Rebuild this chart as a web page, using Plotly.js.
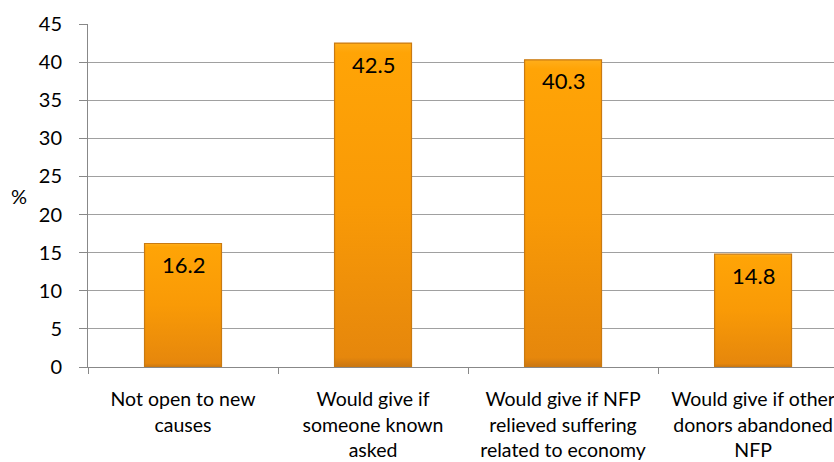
<!DOCTYPE html>
<html>
<head>
<meta charset="utf-8">
<script src="https://cdn.plot.ly/plotly-3.0.1.min.js"></script>
<style>html,body{margin:0;padding:0;background:#fff;}#chart{width:834px;height:462px;}</style>
</head>
<body>
<div id="chart"></div>
<script>
const categories = [
  "Not open to new<br>causes",
  "Would give if<br>someone known<br>asked",
  "Would give if NFP<br>relieved suffering<br>related to economy",
  "Would give if other<br>donors abandoned<br>NFP"
];
const values = [16.2, 42.5, 40.3, 14.8];
const yTickVals = [0, 5, 10, 15, 20, 25, 30, 35, 40, 45];
const yAxisLabel = "%";

const FONT = "Lato, 'Open Sans', sans-serif";

const trace = {
  type: "bar",
  x: categories,
  y: values,
  width: 0.405,
  marker: { color: "#F7980E", line: { color: "#C97A12", width: 1.2 } },
  hoverinfo: "none"
};

const annotations = values.map((v, i) => ({
  x: categories[i], y: v, xref: "x", yref: "y",
  text: String(v), showarrow: false,
  yanchor: "middle", yshift: -21,
  font: { family: FONT, size: 22, color: "#000" }
}));
annotations.push({
  text: yAxisLabel, xref: "paper", yref: "paper", x: -0.092, y: 0.5,
  xanchor: "center", yanchor: "middle", showarrow: false,
  font: { family: FONT, size: 20, color: "#000" }
});

const layout = {
  width: 834, height: 462,
  margin: { l: 88, r: 0, t: 24, b: 95 },
  paper_bgcolor: "#fff", plot_bgcolor: "#fff",
  showlegend: false,
  font: { family: FONT, size: 19, color: "#000" },
  xaxis: {
    type: "category",
    range: [-0.5, 3.426],
    tickson: "boundaries",
    ticks: "outside", ticklen: 6, tickcolor: "#888", tickwidth: 1,
    showline: true, linecolor: "#888", linewidth: 1,
    showgrid: false, zeroline: false,
    tickfont: { family: FONT, size: 19.5, color: "#000" },
    ticklabelstandoff: 15
  },
  yaxis: {
    range: [0, 45],
    tickvals: yTickVals,
    ticks: "outside", ticklen: 8, tickcolor: "#888", tickwidth: 1,
    showline: true, linecolor: "#888", linewidth: 1,
    showgrid: true, gridcolor: "#A0A0A0", gridwidth: 1,
    zeroline: false,
    tickfont: { family: FONT, size: 20, color: "#000" },
    ticklabelstandoff: 13
  },
  annotations: annotations
};

Plotly.newPlot("chart", [trace], layout, { staticPlot: true }).then(gd => {
  const svg = gd.querySelector("svg.main-svg");
  const ns = "http://www.w3.org/2000/svg";
  let defs = svg.querySelector("defs");
  if (!defs) { defs = document.createElementNS(ns, "defs"); svg.insertBefore(defs, svg.firstChild); }
  const g = document.createElementNS(ns, "linearGradient");
  g.setAttribute("id", "barGrad");
  g.setAttribute("x1", "0"); g.setAttribute("y1", "0");
  g.setAttribute("x2", "0"); g.setAttribute("y2", "1");
  [["0", "#FFAE1A"], ["0.03", "#FFA406"], ["0.5", "#F99A06"], ["0.97", "#E6870C"], ["1", "#C97612"]].forEach(([o, c]) => {
    const s = document.createElementNS(ns, "stop");
    s.setAttribute("offset", o); s.setAttribute("stop-color", c);
    g.appendChild(s);
  });
  defs.appendChild(g);
  gd.querySelectorAll(".bars .point path").forEach(p => { p.style.fill = "url(#barGrad)"; });
});
</script>
</body>
</html>
